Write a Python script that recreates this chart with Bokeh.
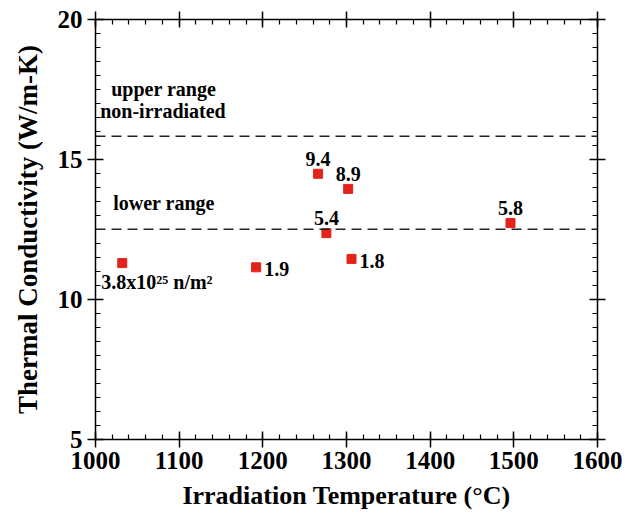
from bokeh.plotting import figure
from bokeh.models import (Range1d, LinearAxis, SingleIntervalTicker, Span,
                          ColumnDataSource, Label)
from bokeh.embed import file_html
from bokeh.resources import INLINE
from bokeh.core.properties import value

# Irradiated samples: temperature (°C), thermal conductivity (W/m-K), fluence label
temps = [1032, 1192, 1266, 1276, 1302, 1306, 1496]
conductivity = [11.30, 11.15, 14.49, 12.37, 13.95, 11.45, 12.73]
fluence = ["3.8x10\u00b2\u2075 n/m\u00b2", "1.9", "9.4", "5.4", "8.9", "1.8", "5.8"]

# Non-irradiated reference band
upper_range = 15.83
lower_range = 12.51

x_ticks_interval = 100
y_ticks_interval = 5

FONT = "Liberation Serif"

p = figure(width=638, height=513, output_backend="svg", toolbar_location=None,
           x_range=Range1d(1000, 1600), y_range=Range1d(5, 20),
           x_axis_location=None, y_axis_location=None,
           min_border_left=95, min_border_right=41, min_border_top=19,
           min_border_bottom=74)
p.outline_line_color = None
p.xgrid.visible = False
p.ygrid.visible = False
p.background_fill_color = "white"
p.border_fill_color = "white"


def style_axis(ax, show_labels):
    ax.axis_line_color = "black"
    ax.axis_line_width = 1.5
    ax.major_tick_line_color = "black"
    ax.major_tick_line_width = 1.5
    ax.minor_tick_line_color = "black"
    ax.minor_tick_line_width = 1.2
    ax.major_tick_in = 8
    ax.major_tick_out = 8
    ax.minor_tick_in = 5
    ax.minor_tick_out = 0
    ax.major_label_text_font = FONT
    ax.major_label_text_font_style = "bold"
    ax.axis_label_text_font = FONT
    ax.axis_label_text_font_style = "bold"
    ax.axis_label_text_color = "black"
    if show_labels:
        ax.major_label_text_color = "black"
        ax.major_label_text_font_size = "25px"
        ax.axis_label_text_font_size = "26px"
    else:
        # mirrored frame edge: ticks only
        ax.major_label_text_color = None
        ax.major_label_standoff = 0


def xticker():
    return SingleIntervalTicker(interval=x_ticks_interval, num_minor_ticks=5)


def yticker():
    return SingleIntervalTicker(interval=y_ticks_interval, num_minor_ticks=10)


bottom = LinearAxis(ticker=xticker(), axis_label="Irradiation Temperature (\u00b0C)")
style_axis(bottom, True)
bottom.major_label_standoff = 4
bottom.axis_label_standoff = 9
p.add_layout(bottom, "below")

top = LinearAxis(ticker=xticker())
style_axis(top, False)
p.add_layout(top, "above")

left = LinearAxis(ticker=yticker(), axis_label="Thermal Conductivity (W/m-K)")
style_axis(left, True)
left.axis_label_text_font_size = "27px"
left.major_label_standoff = 5
left.axis_label_standoff = 12
p.add_layout(left, "left")

right = LinearAxis(ticker=yticker())
style_axis(right, False)
p.add_layout(right, "right")

# Dashed reference lines for the non-irradiated range
for level in (upper_range, lower_range):
    p.add_layout(Span(location=level, dimension="width", line_color="#222222",
                      line_width=1.4, line_dash="10 6"))

label_style = dict(text_font=FONT, text_font_style="bold",
                   text_font_size="20px", text_color="black")

p.add_layout(Label(x=1002, y=upper_range, y_offset=36, text="upper range",
                   x_offset=14, **label_style))
p.add_layout(Label(x=1002, y=upper_range, y_offset=14, text="non-irradiated",
                   x_offset=3, **label_style))
p.add_layout(Label(x=1002, y=lower_range, y_offset=15, text="lower range",
                   x_offset=16, **label_style))

src = ColumnDataSource(dict(x=temps, y=conductivity, label=fluence))
p.scatter("x", "y", source=src, marker="square", size=9,
          fill_color="#e3231b", line_color="#e3231b")

# Fluence labels: above, right or below their points
above = [i for i, t in enumerate(fluence) if t in ("9.4", "8.9", "5.4", "5.8")]
right_side = [i for i, t in enumerate(fluence) if t in ("1.9", "1.8")]
below = [0]


def subset(idx):
    return ColumnDataSource(dict(x=[temps[i] for i in idx],
                                 y=[conductivity[i] for i in idx],
                                 label=[fluence[i] for i in idx]))


text_kw = dict(text_font=value(FONT), text_font_style="bold",
               text_font_size="20px", text_color="black")
p.text("x", "y", text="label", source=subset(above), text_align="center",
       text_baseline="bottom", y_offset=-8, **text_kw)
p.text("x", "y", text="label", source=subset(right_side), text_align="left",
       text_baseline="middle", x_offset=8, y_offset=2, **text_kw)
p.text("x", "y", text="label", source=subset(below), text_align="left",
       text_baseline="top", x_offset=-21, y_offset=8, **text_kw)

open("out.html", "w").write(file_html(p, INLINE))
